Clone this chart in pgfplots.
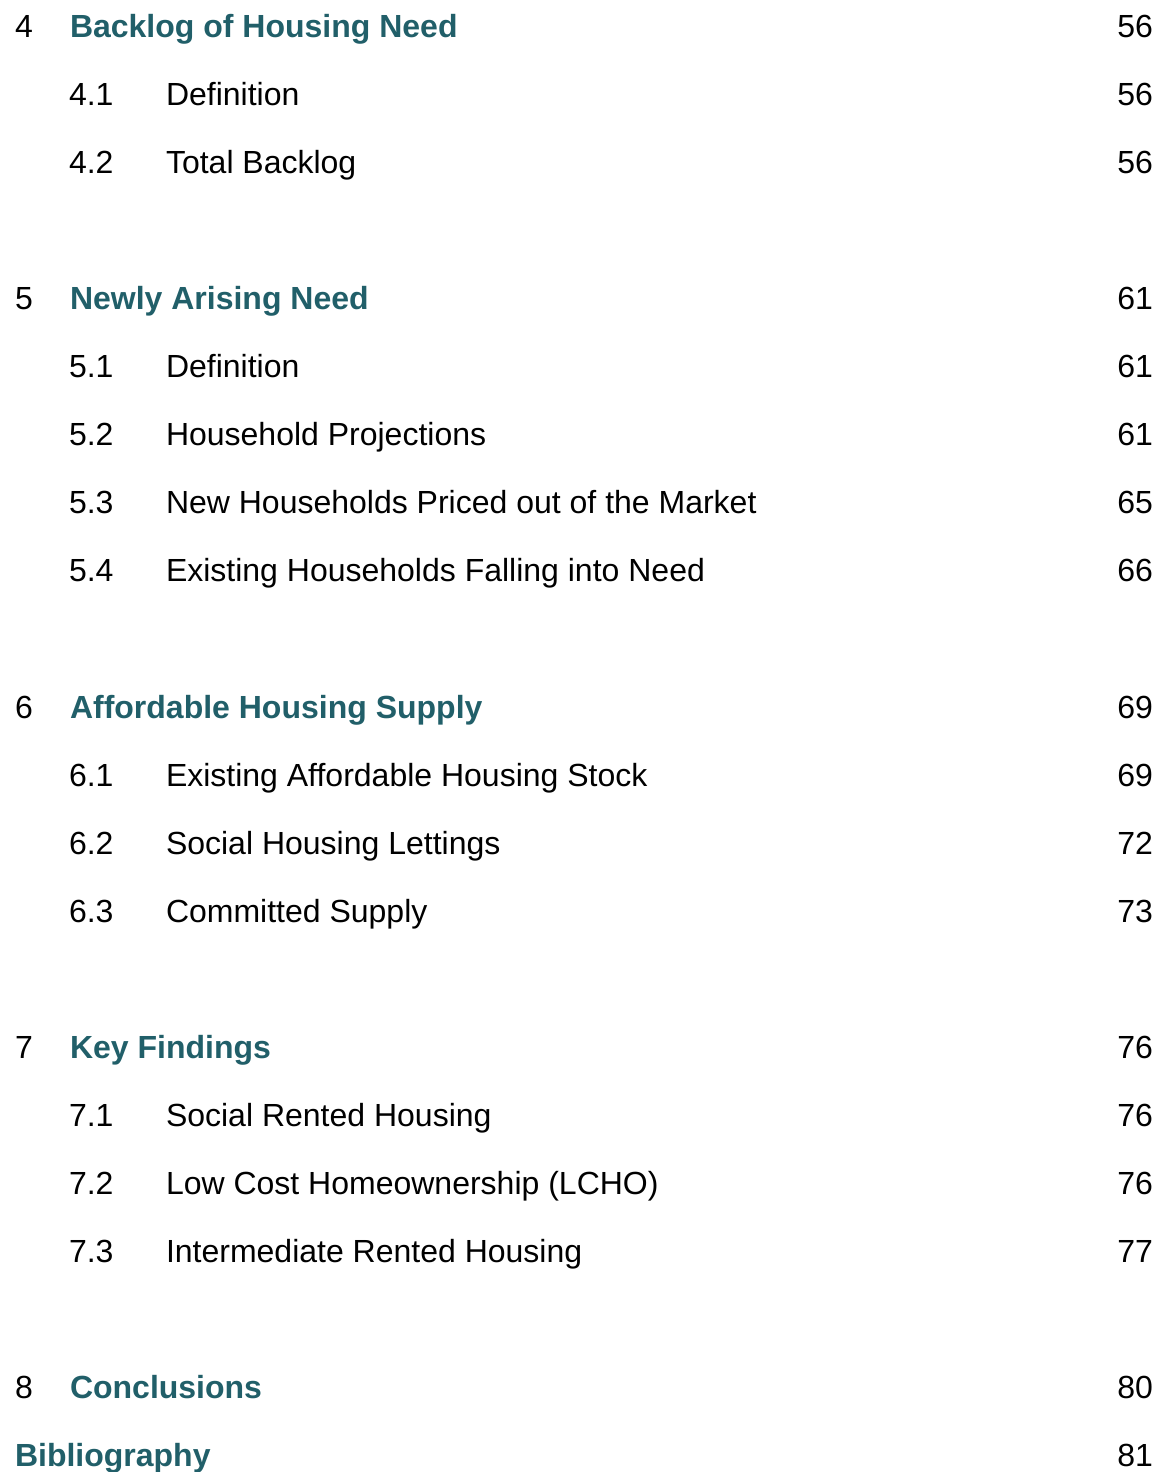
\documentclass[border=0pt]{standalone}
\usepackage{fontspec}
\setmainfont{Liberation Sans}
\usepackage{pgfplots}
\pgfplotsset{compat=1.18}
\definecolor{headteal}{RGB}{33,95,105}

% one pixel of the page = 0.5pt
\newcommand{\tocfont}{\fontsize{16}{19}\selectfont}
\newcommand{\rowy}[1]{37.5+68.05*#1}
\tikzset{toc/.style={inner sep=0pt, outer sep=0pt, font=\tocfont},
         tochead/.style={toc, text=headteal, font=\tocfont\bfseries}}
\newcommand{\head}[4]{% row, number, title, page
  \node[toc,anchor=base west] at (axis cs:15,{\rowy{#1}}) {#2};
  \node[tochead,anchor=base west] at (axis cs:70,{\rowy{#1}}) {#3};
  \node[toc,anchor=base east] at (axis cs:1153,{\rowy{#1}}) {#4};}
\newcommand{\sub}[4]{%
  \node[toc,anchor=base west] at (axis cs:69,{\rowy{#1}}) {#2};
  \node[toc,anchor=base west] at (axis cs:166,{\rowy{#1}}) {#3};
  \node[toc,anchor=base east] at (axis cs:1153,{\rowy{#1}}) {#4};}

\begin{document}
\begin{tikzpicture}
\begin{axis}[
    name=ax,
    scale only axis,
    width=582pt, height=736pt,
    xmin=0, xmax=1164, ymin=0, ymax=1472,
    y dir=reverse,
    hide axis,
    clip=false,
]
\head{0}{4}{Backlog of Housing Need}{56}
\sub{1}{4.1}{Definition}{56}
\sub{2}{4.2}{Total Backlog}{56}

\head{4}{5}{Newly Arising Need}{61}
\sub{5}{5.1}{Definition}{61}
\sub{6}{5.2}{Household Projections}{61}
\sub{7}{5.3}{New Households Priced out of the Market}{65}
\sub{8}{5.4}{Existing Households Falling into Need}{66}

\head{10}{6}{Affordable Housing Supply}{69}
\sub{11}{6.1}{Existing Affordable Housing Stock}{69}
\sub{12}{6.2}{Social Housing Lettings}{72}
\sub{13}{6.3}{Committed Supply}{73}

\head{15}{7}{Key Findings}{76}
\sub{16}{7.1}{Social Rented Housing}{76}
\sub{17}{7.2}{Low Cost Homeownership (LCHO)}{76}
\sub{18}{7.3}{Intermediate Rented Housing}{77}

\head{20}{8}{Conclusions}{80}
\node[tochead,anchor=base west] at (axis cs:15,{\rowy{21}}) {Bibliography};
\node[toc,anchor=base east] at (axis cs:1153,{\rowy{21}}) {81};
\end{axis}
\pgfresetboundingbox
\useasboundingbox (ax.south west) rectangle (ax.north east);
\end{tikzpicture}
\end{document}
